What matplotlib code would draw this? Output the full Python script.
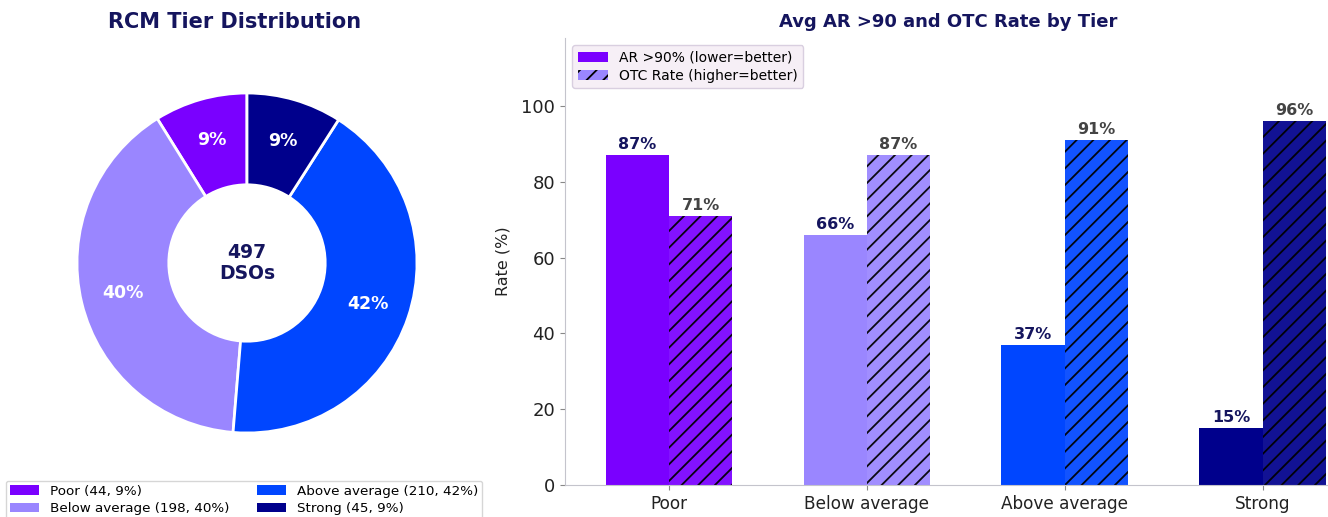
import matplotlib
matplotlib.use("Agg")
import matplotlib.pyplot as plt
from matplotlib.patches import Patch
import numpy as np

tiers = ["Poor", "Below average", "Above average", "Strong"]
counts = [44, 198, 210, 45]
ar90 = [87, 66, 37, 15]        # avg AR >90 days, %
otc = [71, 87, 91, 96]         # avg OTC rate, %

colors = ["#7a00ff", "#9a86ff", "#0046ff", "#00008c"]
navy = "#15155e"

plt.rcParams["font.family"] = ["DejaVu Sans"]
plt.rcParams["hatch.linewidth"] = 1.3

fig = plt.figure(figsize=(13.28, 5.17), dpi=100)

# ---- donut: tier distribution ----
total = sum(counts)
ax_pie = fig.add_axes([(247 - 200) / 1328, (517 - 263 - 200) / 517, 400 / 1328, 400 / 517])
wedges, _, autotexts = ax_pie.pie(
    counts, colors=colors, startangle=90, counterclock=True,
    autopct=lambda p: f"{p:.0f}%", pctdistance=0.75,
    wedgeprops=dict(width=0.54, edgecolor="white", linewidth=2),
)
for t in autotexts:
    t.set_color("white")
    t.set_fontsize(12.5)
    t.set_fontweight("bold")
ax_pie.text(0, 0, f"{total}\nDSOs", ha="center", va="center",
            fontsize=13.5, fontweight="bold", color=navy, linespacing=1.1)
lim = 200 / 170
ax_pie.set_xlim(-lim, lim)
ax_pie.set_ylim(-lim, lim)
ax_pie.set_aspect("equal")

fig.text(235 / 1328, 1 - 22 / 517, "RCM Tier Distribution", ha="center", va="center",
         fontsize=15, fontweight="bold", color=navy)

pie_handles = [Patch(facecolor=c, label=f"{t} ({n}, {n / total * 100:.0f}%)")
               for t, n, c in zip(tiers, counts, colors)]
fig.legend(handles=pie_handles, loc="upper center", bbox_to_anchor=(244 / 1328, 1 - 474 / 517),
           ncol=2, fontsize=9.7, frameon=True, edgecolor="#cccccc",
           handlelength=2.2, columnspacing=2.0, handletextpad=0.8, borderpad=0.3,
           labelspacing=0.35, fancybox=True)

# ---- bars: AR >90 vs OTC rate ----
ax = fig.add_axes([565 / 1328, 32 / 517, (1331 - 565) / 1328, (485 - 38) / 517])
x = np.arange(len(tiers))
w = 0.32
ax.bar(x - w / 2, ar90, w, color=colors, linewidth=0)
ax.bar(x + w / 2, otc, w, color=colors, alpha=0.93, hatch="//", edgecolor="black", linewidth=0)

for xi, v in zip(x - w / 2, ar90):
    ax.text(xi, v + 0.8, f"{v}%", ha="center", va="bottom", fontsize=11.5,
            fontweight="bold", color=navy)
for xi, v in zip(x + w / 2, otc):
    ax.text(xi, v + 0.8, f"{v}%", ha="center", va="bottom", fontsize=11.5,
            fontweight="bold", color="#444444")

ax.set_xlim(-0.525, 3.345)
ax.set_ylim(0, 118)
ax.set_xticks(x)
ax.set_xticklabels(tiers, fontsize=12.2, color="#222222")
ax.set_yticks([0, 20, 40, 60, 80, 100])
ax.tick_params(axis="y", labelsize=13, colors="#222222")
ax.tick_params(color="#888888")
ax.set_ylabel("Rate (%)", fontsize=11.5, color="#222222", labelpad=8)
for s in ("top", "right"):
    ax.spines[s].set_visible(False)
for s in ("left", "bottom"):
    ax.spines[s].set_color("#c4c4cc")

bar_handles = [
    Patch(facecolor=colors[0], label="AR >90% (lower=better)"),
    Patch(facecolor=colors[1], hatch="//", edgecolor="black", linewidth=0,
          label="OTC Rate (higher=better)"),
]
ax.legend(handles=bar_handles, loc="upper left", bbox_to_anchor=(0.0, 1.0),
          fontsize=10, facecolor="#f6eff6", edgecolor="#d9cfe0", framealpha=1,
          handlelength=2.2, borderpad=0.4, labelspacing=0.3)

fig.text(948 / 1328, 1 - 22 / 517, "Avg AR >90 and OTC Rate by Tier", ha="center", va="center",
         fontsize=13, fontweight="bold", color=navy)

fig.savefig("out.png", dpi=100)
